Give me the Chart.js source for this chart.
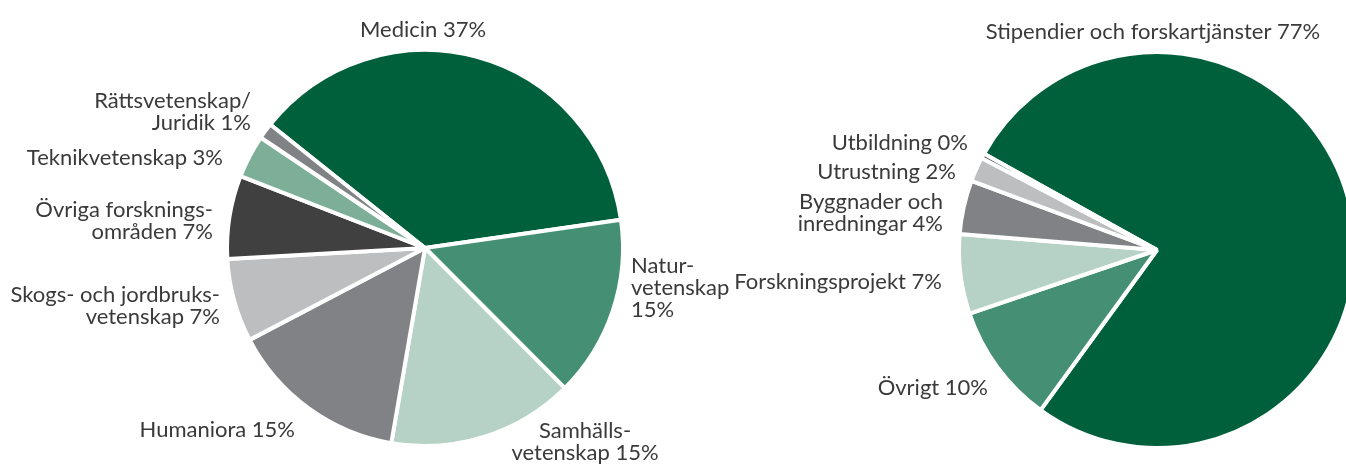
<!DOCTYPE html>
<html>
<head>
<meta charset="utf-8">
<script src="https://cdn.jsdelivr.net/npm/chart.js@4"></script>
<style>
  html, body { margin: 0; padding: 0; background: #fff; overflow: hidden; }
  body { width: 1346px; height: 465px; position: relative; }
  .box { position: absolute; top: 0; height: 465px; }
  #leftBox { left: 0; width: 760px; }
  #rightBox { left: 700px; width: 670px; }
</style>
</head>
<body>
<div class="box" id="leftBox"><canvas id="leftPie"></canvas></div>
<div class="box" id="rightBox"><canvas id="rightPie"></canvas></div>
<script>
// Vänster diagram: forskningsområden (medurs från Medicin)
const leftLabels = ['Medicin 37%', 'Natur-\nvetenskap\n15%', 'Samhälls-\nvetenskap 15%', 'Humaniora 15%',
  'Skogs- och jordbruks-\nvetenskap 7%', 'Övriga forsknings-\nområden 7%', 'Teknikvetenskap 3%', 'Rättsvetenskap/\nJuridik 1%'];
const leftValues = [37.0, 14.8, 15.2, 14.6, 6.8, 6.8, 3.5, 1.3];
const leftColors = ['#00603b', '#458f74', '#b6d1c5', '#808285', '#bcbec0', '#404040', '#7daf98', '#808285'];

// Höger diagram: typ av stöd (medurs från Stipendier)
const rightLabels = ['Stipendier och forskartjänster 77%', 'Övrigt 10%', 'Forskningsprojekt 7%',
  'Byggnader och\ninredningar 4%', 'Utrustning 2%', 'Utbildning 0%'];
const rightValues = [77.0, 9.8, 6.5, 4.4, 2.0, 0.4];
const rightColors = ['#00603b', '#458f74', '#b6d1c5', '#808285', '#bcbec0', '#404040'];

// etikettplacering relativt tårtans mittpunkt
const leftLabelPos = [
  {dx: -2, dy: -218, align: 'center'}, {dx: 206, dy: 40, align: 'left'}, {dx: 160, dy: 194, align: 'center'},
  {dx: -130, dy: 182, align: 'right'}, {dx: -205, dy: 58, align: 'right'}, {dx: -212, dy: -27, align: 'right'},
  {dx: -202, dy: -90, align: 'right'}, {dx: -174, dy: -136, align: 'right'}
];
const rightLabelPos = [
  {dx: -4, dy: -218, align: 'center'}, {dx: -169, dy: 138, align: 'right'}, {dx: -215, dy: 32, align: 'right'},
  {dx: -214, dy: -37, align: 'right'}, {dx: -201, dy: -78, align: 'right'}, {dx: -189, dy: -107, align: 'right'}
];

const labelPlugin = {
  id: 'sliceLabels',
  afterDraw(chart, args, opts) {
    const ctx = chart.ctx;
    const arc = chart.getDatasetMeta(0).data[0];
    if (!arc) return;
    const cx = arc.x, cy = arc.y, lh = 22;
    ctx.save();
    ctx.font = '22px Lato';
    ctx.fillStyle = '#3a3a3a';
    ctx.textBaseline = 'middle';
    chart.data.labels.forEach((txt, i) => {
      const p = opts.pos[i];
      const lines = txt.split('\n');
      ctx.textAlign = p.align;
      const y0 = cy + p.dy - (lines.length - 1) * lh / 2;
      lines.forEach((l, j) => ctx.fillText(l, cx + p.dx, y0 + j * lh));
    });
    ctx.restore();
  }
};

function makePie(id, labels, values, colors, rotation, padding, pos) {
  return new Chart(document.getElementById(id), {
    type: 'pie',
    data: { labels: labels, datasets: [{ data: values, backgroundColor: colors, borderColor: '#fff', borderWidth: 4 }] },
    options: {
      responsive: true, maintainAspectRatio: false, animation: false, events: [],
      rotation: rotation,
      layout: { padding: padding },
      plugins: { legend: {display: false}, tooltip: {enabled: false}, sliceLabels: { pos: pos } }
    },
    plugins: [labelPlugin]
  });
}

makePie('leftPie', leftLabels, leftValues, leftColors, -51.4, {left: 225, right: 135, top: 48, bottom: 17}, leftLabelPos);
makePie('rightPie', rightLabels, rightValues, rightColors, -60.9, {left: 257, right: 13, top: 50, bottom: 15}, rightLabelPos);
</script>
</body>
</html>
